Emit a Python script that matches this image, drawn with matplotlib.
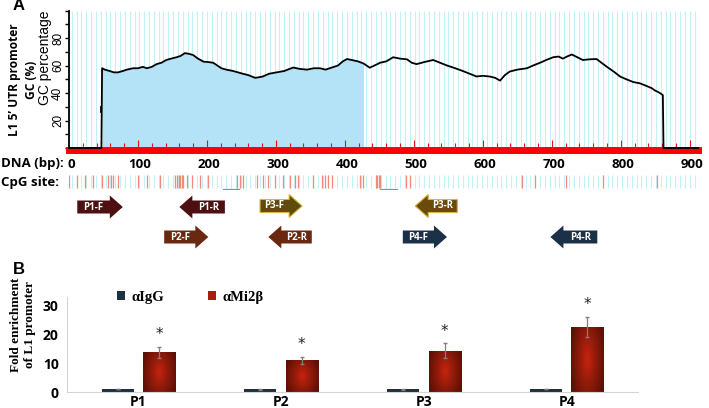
import numpy as np
import matplotlib
matplotlib.use('Agg')
import matplotlib.pyplot as plt
from matplotlib.patches import Polygon, Patch
from matplotlib.colors import LinearSegmentedColormap

# ---------------- data ----------------
gc_pos = [0, 47, 48, 52, 59, 65, 71, 78, 84, 93, 100, 107, 113, 120, 127, 134, 141, 148, 156, 162,
          168, 174, 180, 187, 195, 202, 209, 215, 221, 228, 238, 245, 252, 260, 270, 276, 281, 290,
          301, 312, 325, 335, 345, 355, 364, 372, 378, 390, 397, 403, 410, 419, 427, 436, 443, 451,
          460, 470, 480, 490, 497, 504, 515, 528, 538, 548, 560, 571, 581, 591, 600, 610, 618, 625,
          632, 639, 650, 664, 673, 683, 692, 702, 710, 716, 722, 729, 737, 745, 755, 765, 772, 780,
          790, 799, 808, 818, 828, 838, 845, 849, 855, 861, 862, 912]
gc_val = [0, 0, 58, 57, 56, 55, 55, 56, 57, 58, 58, 59, 58, 59, 61, 62, 64, 65, 66, 67,
          69, 68.5, 67.6, 65, 62.8, 62.5, 62, 60, 58, 57, 56, 55, 54, 53, 51, 51.5, 52, 54,
          55, 56, 58.5, 57.5, 57, 58, 58, 57, 58, 60, 63, 64.7, 64, 63, 61.5, 58.4, 60, 62,
          63, 66, 65, 64.5, 62, 61, 62.5, 64, 62, 60, 58, 56, 54, 52, 52.5, 52, 51, 49,
          53, 55.6, 57, 58, 60, 62, 64, 66, 66.5, 65, 66.5, 68, 66, 64, 64.5, 64.7, 62, 59,
          55.5, 52, 50, 48, 47, 45, 43.5, 42, 40.5, 38.5, 0, 0]
gc_fill_start = 48
gc_fill_end = 427
gc_glitch = (47, 26, 30)

dna_ticks = [0, 100, 200, 300, 400, 500, 600, 700, 800, 900]
gc_yticks = [20, 40, 60, 80]

cpg_sites = [0, 12, 23, 35, 48, 57, 61, 64, 71, 100, 113, 132, 154, 157, 159, 161, 164, 166, 171,
             178, 190, 201, 244, 248, 253, 273, 282, 289, 299, 311, 321, 328, 332, 354, 367, 371,
             375, 381, 422, 427, 445, 447, 449, 451, 488, 495, 657, 676, 720, 774, 853]
blue_marks = [(224, 247), (451, 476)]

primer_names = ['P1-F', 'P1-R', 'P2-F', 'P2-R', 'P3-F', 'P3-R', 'P4-F', 'P4-R']
primer_tail = [12, 226, 138, 352, 277, 563, 484, 766]
primer_tip = [78, 160, 202, 289, 338, 502, 548, 698]

categories = ['P1', 'P2', 'P3', 'P4']
igg = [1.0, 1.0, 0.9, 1.0]
igg_err = [0.1, 0.15, 0.1, 0.1]
mi2 = [13.8, 10.9, 14.3, 22.5]
mi2_err = [1.9, 1.2, 2.5, 3.5]

# ---------------- style ----------------
W, H = 709, 408
primer_row_y = [207, 207, 237, 237, 206, 206, 237, 237]
primer_colors = ['#4d0f0f', '#4d0f0f', '#6b2810', '#6b2810', '#5f4b0c', '#6b4a0c', '#1c3048', '#1c3048']
primer_edges = ['none', 'none', 'none', 'none', '#d9b43a', '#d9b43a', 'none', 'none']
SANS_B = ['Open Sans', 'DejaVu Sans']
SERIF = ['Liberation Serif', 'DejaVu Serif']

def fx(px):
    return px / W

def fy(py):
    return 1 - py / H

fig = plt.figure(figsize=(W / 100, H / 100), dpi=100)

XMAX = 912
ax_l, ax_r = 69, 698
def bp2px(bp):
    return ax_l + (ax_r - ax_l) * bp / XMAX

# ---------- GC panel ----------
ax1 = fig.add_axes([fx(ax_l), fy(148), fx(ax_r - ax_l), (148 - 10.5) / H])
ax1.set_xlim(0, XMAX)
ax1.set_ylim(0, 100)
stripes = np.arange(4, XMAX, 7)
ax1.vlines(stripes, 0, 100, color='#c4f0f7', lw=0.8, zorder=0)
gp = np.array(gc_pos); gv = np.array(gc_val)
m = (gp >= gc_fill_start) & (gp <= gc_fill_end)
ax1.fill_between(gp[m], 0, gv[m], color='#b4e2f6', lw=0, zorder=1)
ax1.plot(gp, gv, color='black', lw=1.3, zorder=5, clip_on=False)
ax1.plot([gc_glitch[0], gc_glitch[0]], [gc_glitch[1], gc_glitch[2]], color='black', lw=1.3, zorder=5)
ax1.axhline(-1.5, color='#ff0000', lw=5, zorder=3, clip_on=False)
t20 = np.arange(20, 901, 20)
short = [t for t in t20 if t % 100]
tall = [t for t in t20 if t % 100 == 0]
ax1.vlines(short, 0, 3.8, color='#ee1111', lw=0.8, zorder=4)
ax1.vlines(tall, 0, 6.0, color='#ee1111', lw=0.8, zorder=4)
for s in ['top', 'right', 'bottom']:
    ax1.spines[s].set_visible(False)
ax1.spines['left'].set_linewidth(1.3)
ax1.set_xticks([])
ax1.set_yticks(np.arange(0, 101, 10))
ax1.set_yticklabels([str(v) if v in gc_yticks else '' for v in range(0, 101, 10)],
                    rotation=90, va='center', fontsize=8.5, family='Liberation Sans')
ax1.tick_params(axis='y', length=3, width=1, pad=0.5)

fig.text(fx(45), fy(58), 'GC percentage', rotation=90, ha='center', va='center',
         fontsize=10, family='Liberation Sans')
fig.text(fx(23), fy(80), 'L1 5\u2019 UTR promoter\nGC (%)', rotation=90, ha='center', va='center',
         fontsize=8.6, family=SANS_B, fontweight='bold', linespacing=1.35, multialignment='center')
fig.text(fx(19), fy(6), 'A', ha='center', va='center', fontsize=12, fontweight='bold',
         family='Liberation Sans')

# DNA row
fig.text(fx(1), fy(164), 'DNA (bp):', ha='left', va='center', fontsize=9.5,
         family=SANS_B, fontweight='bold')
for t in dna_ticks:
    fig.text(fx(bp2px(t) + 2), fy(164), str(t), ha='center', va='center', fontsize=9.5,
             family=SANS_B, fontweight='bold')

# CpG row
fig.text(fx(1), fy(183), 'CpG site:', ha='left', va='center', fontsize=9.5,
         family=SANS_B, fontweight='bold')
ax2 = fig.add_axes([fx(ax_l), fy(190), fx(ax_r - ax_l), 16 / H])
ax2.set_xlim(0, XMAX)
ax2.set_ylim(0, 16)
ax2.axis('off')
ax2.vlines(stripes, 2, 15, color='#c4f0f7', lw=0.8, zorder=0)
ax2.vlines(cpg_sites, 2, 15, color='#f08a7a', lw=0.9, zorder=2)
for a, b in blue_marks:
    ax2.plot([a, b], [1, 1], color='#7a8ae8', lw=0.9)

# primers
ax3 = fig.add_axes([fx(ax_l), fy(252), fx(ax_r - ax_l), 60 / H])
ax3.set_xlim(0, XMAX)
ax3.set_ylim(252, 192)
ax3.axis('off')
hl = 13 * XMAX / (ax_r - ax_l)
bh, hh = 6.5, 11.5
for name, s, e, yc, c, ec in zip(primer_names, primer_tail, primer_tip, primer_row_y,
                                 primer_colors, primer_edges):
    d = 1 if e > s else -1
    base = e - d * hl
    pts = [(s, yc - bh), (base, yc - bh), (base, yc - hh), (e, yc), (base, yc + hh),
           (base, yc + bh), (s, yc + bh)]
    ax3.add_patch(Polygon(pts, closed=True, facecolor=c, edgecolor=ec, lw=0.8))
    ax3.text((s + base) / 2, yc, name, color='white', ha='center', va='center',
             fontsize=7, fontweight='bold', family=SANS_B)

# ---------- bar panel ----------
fig.text(fx(19), fy(269), 'B', ha='center', va='center', fontsize=12, fontweight='bold',
         family='Liberation Sans')
axb = fig.add_axes([fx(67), fy(392), fx(638 - 67), (392 - 297) / H])
x = np.arange(len(categories))
bw, off = 0.225, 0.145
axb.bar(x - off, igg, bw, color='#1c3144', zorder=2)
bars = axb.bar(x + off, mi2, bw, color='#a81d0d', zorder=2)
cmap = LinearSegmentedColormap.from_list('redgrad', ['#5e1006', '#8e1a0a', '#c8230f'])
yy, xx = np.mgrid[0:1:60j, 0:1:40j]
grad = 1 - np.sqrt(((xx - 0.5) / 0.5) ** 2 * 0.85 + ((yy - 0.5) / 0.5) ** 2 * 0.35)
for r in bars:
    x0, w_, h_ = r.get_x(), r.get_width(), r.get_height()
    im = axb.imshow(grad, extent=[x0, x0 + w_, 0, h_], origin='lower', aspect='auto',
                    cmap=cmap, vmin=0, vmax=1, zorder=2.5)
    im.set_clip_path(r)
axb.errorbar(x - off, igg, yerr=igg_err, fmt='none', ecolor='#7f7f7f', elinewidth=0.8,
             capsize=1.5, zorder=3)
axb.errorbar(x + off, mi2, yerr=mi2_err, fmt='none', ecolor='#7f7f7f', elinewidth=0.9,
             capsize=1.5, zorder=3)
for xi, v, e in zip(x, mi2, mi2_err):
    axb.text(xi + off, v + e + 4.2, '*', ha='center', va='center', fontsize=11, color='#222222')
axb.set_xlim(-0.5, len(categories) - 0.5)
axb.set_ylim(0, 32.8)
axb.set_yticks([0, 10, 20, 30])
axb.set_yticklabels(['0', '10', '20', '30'], fontsize=10, fontweight='bold', family=SANS_B)
axb.set_xticks(x)
axb.set_xticklabels(categories, fontsize=10, fontweight='bold', family=SANS_B)
axb.tick_params(length=0, pad=2)
axb.tick_params(axis='y', pad=6)
for s in ['top', 'right']:
    axb.spines[s].set_visible(False)
for s in ['left', 'bottom']:
    axb.spines[s].set_color('#d4d4d4')
    axb.spines[s].set_linewidth(0.8)
handles = [Patch(facecolor='#1c3144', label='\u03b1IgG'),
           Patch(facecolor='#a81d0d', label='\u03b1Mi2\u03b2')]
axb.legend(handles=handles, loc='center', bbox_to_anchor=((190 - 67) / 571, 1.0), ncol=2,
           frameon=False, handlelength=0.6, handleheight=0.6, handletextpad=0.4,
           columnspacing=3.0, prop={'family': SERIF, 'weight': 'bold', 'size': 10.5})
fig.text(fx(23), fy(325), 'Fold enrichment\nof L1 promoter', rotation=90, ha='center',
         va='center', fontsize=9.5, family=SERIF, fontweight='bold', linespacing=1.25,
         multialignment='center')

fig.savefig('out.png', dpi=100)
